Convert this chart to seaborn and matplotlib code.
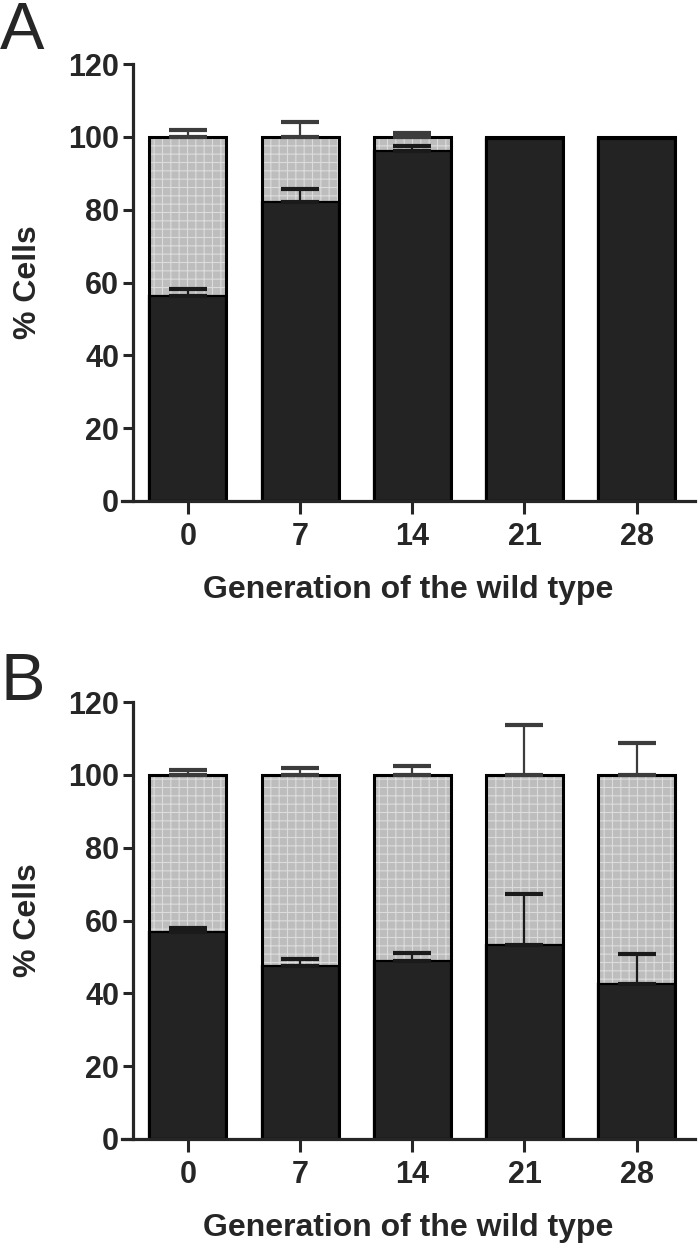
import numpy as np
import matplotlib
matplotlib.use("Agg")
import matplotlib.pyplot as plt
import seaborn as sns

# =========================================================
# DATA
# =========================================================

generations = ["0", "7", "14", "21", "28"]
total_pct = [100, 100, 100, 100, 100]

# panel A
dark_a = [56.2, 82.0, 96.2, 99.5, 99.5]
dark_err_a = [1.9, 3.8, 1.4, 0.0, 0.0]
total_err_a = [1.8, 4.1, 1.0, 0.0, 0.0]

# panel B
dark_b = [56.8, 47.4, 49.0, 53.4, 42.5]
dark_err_b = [1.1, 2.1, 2.1, 14.0, 8.3]
total_err_b = [1.4, 1.9, 2.5, 13.6, 8.8]

y_ticks = [0, 20, 40, 60, 80, 100, 120]
x_label = "Generation of the wild type"
y_label = "% Cells"

# =========================================================
# STYLE
# =========================================================

sns.set_style("ticks")
plt.rcParams.update({
    "font.weight": "bold",
    "axes.labelweight": "bold",
    "hatch.linewidth": 0.8,
})
plt.rcParams["font.family"] = ["Liberation Sans", "DejaVu Sans"]

DARK = "#232323"
GRAY = "#bdbdbd"
BAR_W = 0.686


def draw_panel(ax, dark, dark_err, total_err):

    # hatched light part (full 100 %)
    sns.barplot(x=generations, y=total_pct, order=generations, color=GRAY,
                saturation=1, width=BAR_W, errorbar=None, ax=ax,
                edgecolor="#dcdcdc", linewidth=0, hatch="++")

    # dark part
    sns.barplot(x=generations, y=dark, order=generations, color=DARK,
                saturation=1, width=BAR_W, errorbar=None, ax=ax,
                edgecolor="black", linewidth=1.6)

    # outline of the whole bar
    sns.barplot(x=generations, y=total_pct, order=generations, color="black",
                fill=False, width=BAR_W, errorbar=None, ax=ax,
                linewidth=2.2)

    pos = np.arange(len(generations))
    dark = np.asarray(dark)
    dark_err = np.asarray(dark_err)
    total = np.asarray(total_pct, dtype=float)
    total_err = np.asarray(total_err)

    m = total_err > 0
    ax.errorbar(pos[m], total[m], yerr=[np.zeros(m.sum()), total_err[m]],
                fmt="none", ecolor="#3c3c3c", elinewidth=1.6,
                capsize=14, capthick=3, zorder=5)
    m = dark_err > 0
    ax.errorbar(pos[m], dark[m], yerr=[np.zeros(m.sum()), dark_err[m]],
                fmt="none", ecolor="#1a1a1a", elinewidth=1.6,
                capsize=14, capthick=3, zorder=5)

    # axes
    ax.set_ylim(0, 120)
    ax.set_yticks(y_ticks)
    ax.set_xlim(-0.588, 4.52)
    ax.spines["left"].set_position(("data", -0.49))
    ax.spines["top"].set_visible(False)
    ax.spines["right"].set_visible(False)
    for s in ["left", "bottom"]:
        ax.spines[s].set_linewidth(2.3)
    ax.tick_params(axis="both", direction="out", width=2.2, length=7,
                   labelsize=22, pad=3)
    ax.tick_params(axis="x", length=9, pad=6)

    ax.set_xlabel(x_label, fontsize=23, labelpad=17)
    ax.set_ylabel(y_label, fontsize=23)
    ax.yaxis.set_label_coords(-0.137, 0.5)


fig = plt.figure(figsize=(7, 12.48), dpi=100)

ax_a = fig.add_axes([122 / 700, 1 - 501 / 1248, 573 / 700, 437 / 1248])
ax_b = fig.add_axes([122 / 700, 1 - 1139 / 1248, 573 / 700, 437 / 1248])

draw_panel(ax_a, dark_a, dark_err_a, total_err_a)
draw_panel(ax_b, dark_b, dark_err_b, total_err_b)

fig.text(0.0, 1 - 1 / 1248, "A", fontsize=48, fontweight="normal",
         ha="left", va="top")
fig.text(0.0, 1 - 652 / 1248, "B", fontsize=48, fontweight="normal",
         ha="left", va="top")

fig.savefig("out.png", dpi=100)
plt.close(fig)
